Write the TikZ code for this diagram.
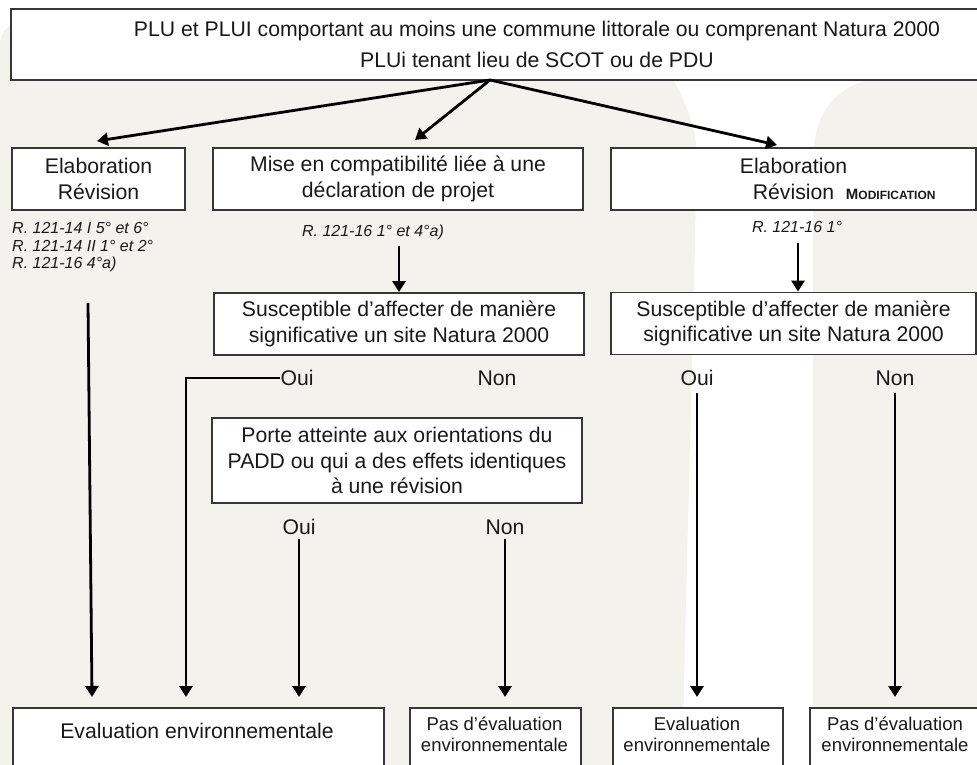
\documentclass[tikz,border=0pt]{standalone}
\usepackage{fontspec}
\setmainfont{Liberation Sans}
\usetikzlibrary{arrows.meta}
\definecolor{bgbeige}{RGB}{243,242,236}
\definecolor{boxline}{RGB}{55,55,55}
\definecolor{txtcol}{RGB}{25,25,25}
\newcommand\modiftxt{{\bfseries\fontsize{15}{15}\selectfont M\fontsize{12}{12}\selectfont ODIFICATION}}
\begin{document}
\begin{tikzpicture}[x=1pt,y=-1pt,
  box/.style={draw=boxline,line width=1.8pt,fill=white,inner sep=0pt,align=center,text=txtcol,font=\fontsize{21.2}{25.5}\selectfont},
  lbl/.style={inner sep=0pt,text=txtcol,font=\fontsize{21.2}{24}\selectfont},
  ref/.style={inner sep=0pt,align=left,text=txtcol,font=\fontsize{16}{17.5}\selectfont\itshape},
  smalltxt/.style={inner sep=0pt,align=center,text=txtcol,font=\fontsize{18.5}{21}\selectfont},
  conn/.style={line width=2.8pt,-{Triangle[width=13pt,length=11pt]}}]
\clip (0,0) rectangle (977,765);
\fill[white] (0,0) rectangle (977,765);
\fill[bgbeige] (0,765) -- (0,45) .. controls (0,25) and (20,15) .. (60,15) -- (560,15) .. controls (650,15) and (697,100) .. (697,160) -- (682,765) -- cycle;
\fill[bgbeige] (813,765) -- (813,160) .. controls (813,110) and (840,78) .. (890,78) -- (977,78) -- (977,765) -- cycle;

% top box
\node[box,minimum width=1052pt,minimum height=71pt] (top) at (537,44.5)
  {PLU et PLUI comportant au moins une commune littorale ou comprenant Natura 2000\\[5pt]PLUi tenant lieu de SCOT ou de PDU};
\coordinate (split) at (490,80);

% second row
\node[box,minimum width=173pt,minimum height=62pt] (elab) at (98.5,179) {Elaboration\\Révision};
\node[box,minimum width=370pt,minimum height=62pt] (mec) at (398,179) {Mise en compatibilité liée à une\\déclaration de projet};
\node[box,minimum width=365pt,minimum height=62pt] (elab2) at (793.5,179) {Elaboration\\Révision\rlap{\ \ \modiftxt}};

\coordinate (t1) at (97,141);
\coordinate (t2) at (415,140);
\coordinate (t3) at (777,145);
\draw[conn] (split) -- (t1);
\draw[conn] (split) -- (t2);
\draw[conn] (split) -- (t3);

% references
\node[ref,anchor=west] (refL) at (12,247.5) {R. 121-14 I 5° et 6°\\R. 121-14 II 1° et 2°\\R. 121-16 4°a)};
\node[ref] (refM) at (373,232) {R. 121-16 1° et 4°a)};
\node[ref] (refR) at (797,227) {R. 121-16 1°};

% third row
\node[box,minimum width=370pt,minimum height=62pt] (sus1) at (399,324) {Susceptible d’affecter de manière\\significative un site Natura 2000};
\node[box,minimum width=365pt,minimum height=62pt] (sus2) at (793.5,323.5) {Susceptible d’affecter de manière\\significative un site Natura 2000};

\coordinate (m1) at (399,246);
\coordinate (r1) at (798,243);
\draw[conn] (m1) -- (m1 |- sus1.north);
\draw[conn] (r1) -- (r1 |- sus2.north);

\node[lbl] (oui1) at (297,378) {Oui};
\node[lbl] (non1) at (497,378) {Non};
\node[lbl] (oui2) at (697,378) {Oui};
\node[lbl] (non2) at (895,378) {Non};

\node[box,minimum width=370pt,minimum height=85pt] (porte) at (397,460.5) {Porte atteinte aux orientations du\\PADD ou qui a des effets identiques\\à une révision};
\node[lbl] (oui3) at (299,527) {Oui};
\node[lbl] (non3) at (505,527) {Non};

% bottom boxes
\node[box,minimum width=371pt,minimum height=100pt,anchor=north west] (ev1) at (12,707) {};
\node[lbl] (ev1t) at (197,731) {Evaluation environnementale};
\node[box,minimum width=171pt,minimum height=100pt,anchor=north west] (pas1) at (409,707) {};
\node[smalltxt] (pas1t) at (494.5,734.5) {Pas d’évaluation\\environnementale};
\node[box,minimum width=170pt,minimum height=100pt,anchor=north west] (ev2) at (612,707) {};
\node[smalltxt] (ev2t) at (697,734.5) {Evaluation\\environnementale};
\node[box,minimum width=175pt,minimum height=100pt,anchor=north west] (pas2) at (809,707) {};
\node[smalltxt] (pas2t) at (895,734.5) {Pas d’évaluation\\environnementale};

% connectors to bottom
\coordinate (lstart) at (88,303);
\coordinate (lend) at (92,697);
\draw[conn] (lstart) -- (lend);
\coordinate (c1) at (186,697);
\draw[conn] (oui1.west) -| (c1);
\draw[conn] ([yshift=-4pt]oui3.south) -- (oui3.south |- lend);
\draw[conn] ([yshift=-4pt]non3.south) -- (non3.south |- lend);
\draw[conn] ([yshift=-7pt]oui2.south) -- (oui2.south |- lend);
\draw[conn] ([yshift=-7pt]non2.south) -- (non2.south |- lend);
\end{tikzpicture}
\end{document}
